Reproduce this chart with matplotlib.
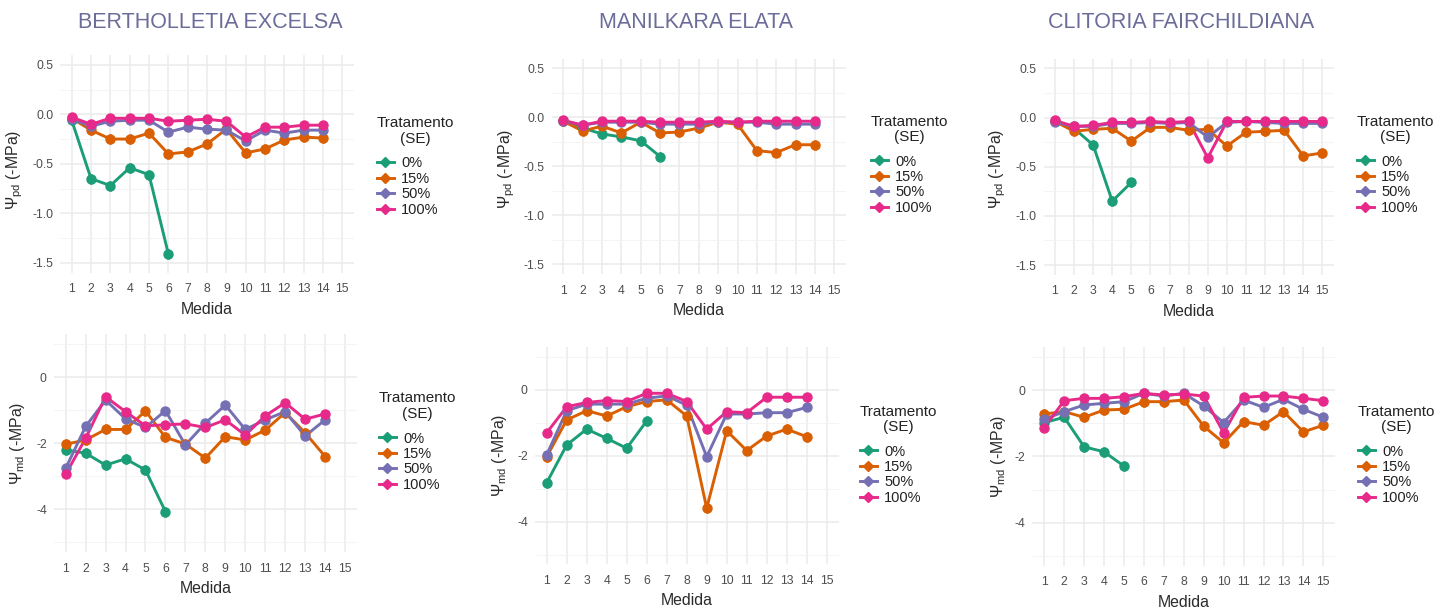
import matplotlib
matplotlib.use('Agg')
import matplotlib.pyplot as plt
from matplotlib.lines import Line2D

plt.rcParams['font.family'] = ['Liberation Sans', 'DejaVu Sans']
plt.rcParams['mathtext.fontset'] = 'custom'
plt.rcParams['mathtext.rm'] = 'Liberation Sans'
plt.rcParams['mathtext.it'] = 'Liberation Sans:italic'
plt.rcParams['mathtext.bf'] = 'Liberation Sans:bold'

W, H = 1451, 611

treatments = ['0%', '15%', '50%', '100%']
colors = ['#1B9E77', '#D95F02', '#7570B3', '#E7298A']
species = ['BERTHOLLETIA EXCELSA', 'MANILKARA ELATA', 'CLITORIA FAIRCHILDIANA']

medida_be = [1, 2, 3, 4, 5, 6, 7, 8, 9, 10, 11, 12, 13, 14]
medida_me = [1, 2, 3, 4, 5, 6, 7, 8, 9, 10, 11, 12, 13, 14]
medida_cf = [1, 2, 3, 4, 5, 6, 7, 8, 9, 10, 11, 12, 13, 14, 15]
x_ticks = [1, 2, 3, 4, 5, 6, 7, 8, 9, 10, 11, 12, 13, 14, 15]

# ---- Psi pre-dawn (-MPa) ----
be_pd_0 = [-0.06, -0.65, -0.72, -0.54, -0.61, -1.41]
be_pd_15 = [-0.04, -0.16, -0.25, -0.25, -0.19, -0.40, -0.38, -0.30, -0.15, -0.39, -0.35, -0.26, -0.23, -0.24]
be_pd_50 = [-0.05, -0.12, -0.07, -0.06, -0.06, -0.18, -0.13, -0.15, -0.16, -0.27, -0.16, -0.19, -0.16, -0.16]
be_pd_100 = [-0.03, -0.10, -0.04, -0.04, -0.04, -0.07, -0.06, -0.05, -0.07, -0.23, -0.13, -0.13, -0.11, -0.11]

me_pd_0 = [-0.04, -0.11, -0.17, -0.20, -0.24, -0.40]
me_pd_15 = [-0.04, -0.14, -0.09, -0.16, -0.05, -0.16, -0.15, -0.11, -0.05, -0.07, -0.34, -0.36, -0.28, -0.28]
me_pd_50 = [-0.04, -0.08, -0.05, -0.05, -0.05, -0.07, -0.07, -0.07, -0.05, -0.05, -0.05, -0.07, -0.07, -0.07]
me_pd_100 = [-0.03, -0.08, -0.04, -0.04, -0.04, -0.05, -0.05, -0.05, -0.04, -0.05, -0.04, -0.04, -0.04, -0.04]

cf_pd_0 = [-0.04, -0.11, -0.28, -0.85, -0.66]
cf_pd_15 = [-0.04, -0.14, -0.12, -0.11, -0.24, -0.10, -0.10, -0.13, -0.12, -0.29, -0.15, -0.14, -0.13, -0.39, -0.36]
cf_pd_50 = [-0.05, -0.09, -0.09, -0.06, -0.06, -0.05, -0.06, -0.05, -0.20, -0.05, -0.04, -0.05, -0.06, -0.06, -0.06]
cf_pd_100 = [-0.03, -0.09, -0.08, -0.05, -0.05, -0.04, -0.05, -0.04, -0.41, -0.04, -0.04, -0.04, -0.04, -0.04, -0.04]

# ---- Psi midday (-MPa) ----
be_md_0 = [-2.20, -2.30, -2.66, -2.47, -2.81, -4.07]
be_md_15 = [-2.03, -1.90, -1.58, -1.58, -1.02, -1.82, -2.02, -2.45, -1.80, -1.90, -1.60, -1.07, -1.68, -2.40]
be_md_50 = [-2.76, -1.49, -0.69, -1.26, -1.52, -1.01, -2.05, -1.39, -0.84, -1.58, -1.29, -1.04, -1.78, -1.29]
be_md_100 = [-2.94, -1.85, -0.59, -1.04, -1.47, -1.44, -1.41, -1.52, -1.29, -1.75, -1.17, -0.77, -1.27, -1.11]

me_md_0 = [-2.82, -1.67, -1.19, -1.47, -1.77, -0.94]
me_md_15 = [-2.03, -0.91, -0.63, -0.79, -0.51, -0.35, -0.30, -0.79, -3.59, -1.24, -1.84, -1.40, -1.19, -1.42]
me_md_50 = [-1.97, -0.63, -0.43, -0.43, -0.43, -0.25, -0.18, -0.46, -2.03, -0.73, -0.73, -0.69, -0.69, -0.53]
me_md_100 = [-1.30, -0.51, -0.38, -0.32, -0.35, -0.10, -0.10, -0.35, -1.19, -0.66, -0.69, -0.22, -0.22, -0.22]

cf_md_0 = [-0.98, -0.82, -1.71, -1.86, -2.29]
cf_md_15 = [-0.72, -0.65, -0.82, -0.60, -0.58, -0.35, -0.35, -0.30, -1.09, -1.59, -0.95, -1.06, -0.65, -1.26, -1.06]
cf_md_50 = [-0.88, -0.65, -0.45, -0.40, -0.35, -0.10, -0.18, -0.10, -0.48, -0.98, -0.30, -0.52, -0.28, -0.58, -0.82]
cf_md_100 = [-1.13, -0.32, -0.25, -0.25, -0.20, -0.10, -0.15, -0.12, -0.18, -1.29, -0.22, -0.18, -0.18, -0.25, -0.32]

# standard errors (approximate, per treatment)
se_pd = [0.05, 0.05, 0.04, 0.04]
se_md = [0.15, 0.15, 0.12, 0.12]

yticks_pd = [-1.5, -1.0, -0.5, 0.0, 0.5]
yticklabels_pd = ['-1.5', '-1.0', '-0.5', '0.0', '0.5']
yminor_pd = [-1.25, -0.75, -0.25, 0.25]
yticks_md = [-4, -2, 0]
yticklabels_md = ['-4', '-2', '0']
yminor_md = [-5, -3, -1, 1]

panels = [
    # (medida, series, se, kind, axes px box(l,t,r,b), ylabel x, ylabel y, legend (left, title-center y))
    (medida_be, [be_pd_0, be_pd_15, be_pd_50, be_pd_100], se_pd, 'pd', (60.1, 54.9, 353.9, 272.7), -0.153, 0.47, (377, 121.7)),
    (medida_me, [me_pd_0, me_pd_15, me_pd_50, me_pd_100], se_pd, 'pd', (551.7, 58.5, 845.9, 274.1), -0.154, 0.49, (871, 120)),
    (medida_cf, [cf_pd_0, cf_pd_15, cf_pd_50, cf_pd_100], se_pd, 'pd', (1043.5, 58.5, 1333.8, 274.9), -0.158, 0.49, (1357, 120)),
    (medida_be, [be_md_0, be_md_15, be_md_50, be_md_100], se_md, 'md', (53.7, 334.4, 357.0, 552.2), -0.119, 0.5, (379, 397)),
    (medida_me, [me_md_0, me_md_15, me_md_50, me_md_100], se_md, 'md', (534.7, 347.2, 838.7, 564.4), -0.117, 0.5, (860, 410)),
    (medida_cf, [cf_md_0, cf_md_15, cf_md_50, cf_md_100], se_md, 'md', (1032.3, 346.9, 1335.3, 566.0), -0.112, 0.5, (1358, 410)),
]

fig = plt.figure(figsize=(W / 100, H / 100), dpi=100)
fig.patch.set_facecolor('white')

grid_c = '#EBEBEB'
tick_c = '#4D4D4D'
title_c = '#2B2B2B'

for medida, series, se, kind, box, ylx, yly, legpos in panels:
    l, t, r, b = box
    ax = fig.add_axes([l / W, 1 - b / H, (r - l) / W, (b - t) / H])
    ax.set_facecolor('white')
    for s in ax.spines.values():
        s.set_visible(False)
    ax.set_xlim(0.4, 15.6)
    if kind == 'pd':
        ax.set_ylim(-1.6, 0.6)
        ax.set_yticks(yticks_pd)
        ax.set_yticklabels(yticklabels_pd)
        minors = yminor_pd
        ylabel = 'Ψ$_{\\mathrm{pd}}$ (-MPa)'
    else:
        ax.set_ylim(-5.3, 1.3)
        ax.set_yticks(yticks_md)
        ax.set_yticklabels(yticklabels_md)
        minors = yminor_md
        ylabel = 'Ψ$_{\\mathrm{md}}$ (-MPa)'
    ax.set_xticks(x_ticks)
    ax.set_xticklabels([str(v) for v in x_ticks])
    ax.set_yticks(minors, minor=True)
    ax.grid(True, which='major', color=grid_c, lw=1.1, zorder=0)
    ax.grid(True, which='minor', axis='y', color='#F3F3F3', lw=0.6, zorder=0)
    ax.set_axisbelow(True)
    ax.tick_params(axis='both', which='both', length=0, labelsize=8.8, labelcolor=tick_c)
    ax.tick_params(axis='x', pad=7.5)
    ax.tick_params(axis='y', pad=5)

    handles = []
    for vals, c, e in zip(series, colors, se):
        xs = medida[:len(vals)]
        ax.plot(xs, vals, color=c, lw=2.1, zorder=3, solid_capstyle='round')
        ax.errorbar(xs, vals, yerr=e, fmt='o', color=c, ms=6.5, elinewidth=2.0,
                    capsize=0, zorder=4)
        handles.append(Line2D([], [], color=c, lw=2.1, marker='D', ms=5.5))

    ax.set_xlabel('Medida', fontsize=11.4, color=title_c, va='center')
    ax.xaxis.set_label_coords(0.5, -0.167)
    ax.set_ylabel(ylabel, fontsize=11.4, color=title_c, va='center')
    ax.yaxis.set_label_coords(ylx, yly)

    lx, ly = legpos
    leg = ax.legend(handles, treatments, title='Tratamento\n(SE)', loc='upper left',
                    bbox_to_anchor=(lx / W, 1 - (ly - 5.5) / H), bbox_transform=fig.transFigure,
                    frameon=False, borderpad=0, borderaxespad=0, handlelength=1.15,
                    handletextpad=0.5, labelspacing=0.1, fontsize=10.5,
                    title_fontsize=11, alignment='left')
    title = leg.get_title()
    title.set_linespacing(1.15)
    title.set_multialignment('center')
    title.set_color('#222222')
    leg._legend_box.sep = 7.5
    for txt in leg.get_texts():
        txt.set_color('#222222')

for name, cx in zip(species, [210, 696, 1181]):
    fig.text(cx / W, 1 - 22.5 / H, name, ha='center', va='center', fontsize=15.5,
             color='#6C6C9A')

fig.savefig('out.png', dpi=100)
